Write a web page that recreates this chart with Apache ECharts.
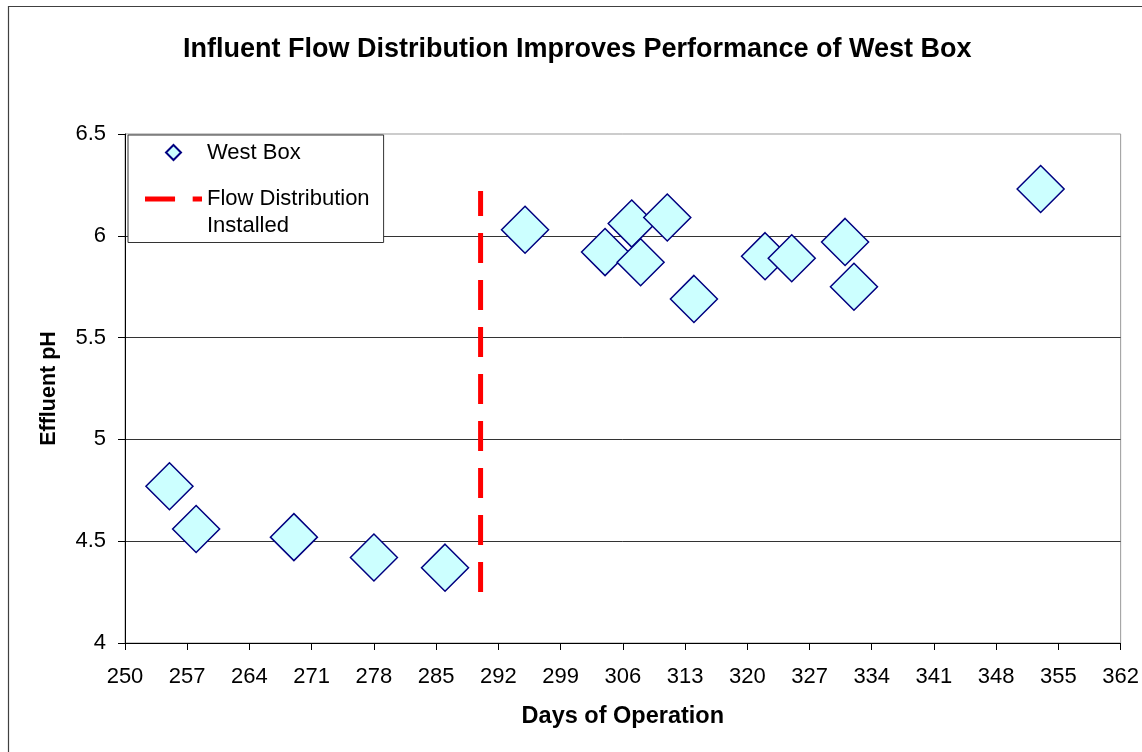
<!DOCTYPE html>
<html>
<head>
<meta charset="utf-8">
<script src="https://cdn.jsdelivr.net/npm/echarts@6/dist/echarts.min.js"></script>
<style>
html,body{margin:0;padding:0;background:#fff;}
#chart{width:1142px;height:752px;}
</style>
</head>
<body>
<div id="chart"></div>
<script>
// ---- data ----
const days = [255, 258, 269, 278, 286, 295, 304, 307, 308, 311, 314, 322, 325, 331, 332, 353];
const ph = [4.77, 4.56, 4.52, 4.42, 4.37, 6.03, 5.92, 6.06, 5.87, 6.09, 5.69, 5.90, 5.89, 5.97, 5.75, 6.23];
const installDay = [290, 290];
const installPh = [4.25, 6.22];
const xTicks = [250, 257, 264, 271, 278, 285, 292, 299, 306, 313, 320, 327, 334, 341, 348, 355, 362];
const yTicks = [4, 4.5, 5, 5.5, 6, 6.5];
const titleText = 'Influent Flow Distribution Improves Performance of West Box';
const seriesNames = ['West Box', 'Flow Distribution Installed'];

const FONT = "'Liberation Sans', Arial, sans-serif";
const chart = echarts.init(document.getElementById('chart'), null, {renderer: 'canvas'});

const scatterData = days.map((d, i) => [d, ph[i]]);
const lineData = installDay.map((d, i) => [d, installPh[i]]);

chart.setOption({
  animation: false,
  backgroundColor: '#fff',
  textStyle: {fontFamily: FONT},
  title: {
    text: titleText,
    left: 178,
    top: 31,
    textStyle: {fontFamily: FONT, fontSize: 27, fontWeight: 'bold', color: '#000'}
  },
  graphic: [{
    type: 'rect', silent: true, z: -1,
    shape: {x: 8.5, y: 6.5, width: 1300, height: 900},
    style: {fill: 'none', stroke: '#404040', lineWidth: 1.2}
  }],
  grid: {
    left: 125, right: 19, top: 134, bottom: 109,
    show: true, borderColor: '#999', borderWidth: 1, backgroundColor: '#fff'
  },
  legend: {
    orient: 'vertical',
    left: 128, top: 135,
    padding: [6.5, 14, 3, 17],
    itemGap: -5,
    itemWidth: 57, itemHeight: 15,
    symbolKeepAspect: true,
    backgroundColor: '#fff',
    borderColor: '#333', borderWidth: 1,
    selectedMode: false,
    formatter: function (name) { return name === seriesNames[1] ? ' \nFlow Distribution\nInstalled' : name; },
    textStyle: {fontFamily: FONT, fontSize: 22, color: '#000', lineHeight: 21},
    data: [
      {name: seriesNames[0], icon: 'path://M7,0L14,7L7,14L0,7Z', textStyle: {lineHeight: 21}},
      {name: seriesNames[1], icon: 'path://M0,0L29,0L29,5L0,5Z M46,0L55,0L55,5L46,5Z',
       itemStyle: {color: '#FF0000', borderWidth: 0}, textStyle: {lineHeight: 27}}
    ]
  },
  xAxis: {
    type: 'value',
    min: xTicks[0], max: xTicks[xTicks.length - 1], interval: 7,
    name: 'Days of Operation',
    nameLocation: 'middle', nameGap: 62,
    nameTextStyle: {fontFamily: FONT, fontSize: 23.5, fontWeight: 'bold', color: '#000'},
    axisLine: {show: true, onZero: false, lineStyle: {color: '#000', width: 1}},
    axisTick: {show: true, inside: false, length: 7, lineStyle: {color: '#000'}},
    axisLabel: {fontFamily: FONT, fontSize: 22, color: '#000', margin: 23},
    splitLine: {show: false}
  },
  yAxis: {
    type: 'value',
    min: yTicks[0], max: yTicks[yTicks.length - 1], interval: 0.5,
    name: 'Effluent pH',
    nameLocation: 'middle', nameGap: 65,
    nameTextStyle: {fontFamily: FONT, fontSize: 21.5, fontWeight: 'bold', color: '#000'},
    axisLine: {show: true, onZero: false, lineStyle: {color: '#000', width: 1}},
    axisTick: {show: true, inside: false, length: 7, lineStyle: {color: '#000'}},
    axisLabel: {fontFamily: FONT, fontSize: 22, color: '#000', margin: 19},
    splitLine: {show: true, showMinLine: false, showMaxLine: false, lineStyle: {color: '#333', width: 1}}
  },
  series: [
    {
      name: seriesNames[0],
      type: 'scatter',
      symbol: 'diamond',
      symbolSize: 47,
      itemStyle: {color: '#CCFFFF', borderColor: '#000080', borderWidth: 1.5, opacity: 1},
      emphasis: {disabled: true},
      data: scatterData,
      z: 3
    },
    {
      name: seriesNames[1],
      type: 'line',
      symbol: 'none',
      lineStyle: {color: '#FF0000', width: 5, type: [30, 17]},
      itemStyle: {color: '#FF0000'},
      emphasis: {disabled: true},
      data: lineData,
      z: 2
    }
  ]
});
</script>
</body>
</html>
